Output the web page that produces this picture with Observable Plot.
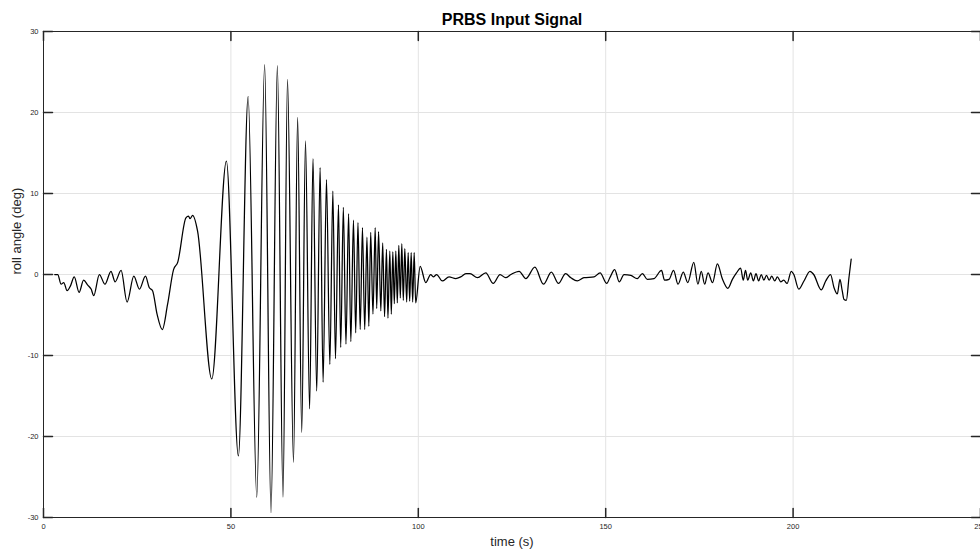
<!DOCTYPE html>
<html>
<head>
<meta charset="utf-8">
<script src="https://cdn.jsdelivr.net/npm/d3@7"></script>
<script src="https://cdn.jsdelivr.net/npm/@observablehq/plot@0.6"></script>
<style>
  html, body { margin: 0; padding: 0; background: #fff; overflow: hidden; }
  #chart svg { display: block; }
</style>
</head>
<body>
<div id="chart"></div>
<script>
const title = "PRBS Input Signal";
const xLabel = "time (s)";
const yLabel = "roll angle (deg)";
const xTicks = [0, 50, 100, 150, 200, 250];
const yTicks = [-30, -20, -10, 0, 10, 20, 30];

const times = [
  3.0, 3.8, 4.7, 5.4, 6.3, 7.2, 8.2, 9.5, 10.7, 11.8, 12.7, 13.4, 14.9, 16.4, 18.0, 19.1, 20.7, 22.3,
  24.1, 25.6, 27.2, 28.2, 29.1, 30.3, 31.7, 33.1, 34.7, 35.8, 38.0, 38.7, 39.1, 39.8, 41.1,
  44.9, 48.8, 52.0, 54.6, 56.9, 59.0, 60.7, 62.4, 63.9, 65.1, 66.7, 67.8, 68.9, 69.9, 71.0, 71.9,
  72.9, 73.8, 74.6, 75.5, 76.4, 77.2, 77.9, 78.7, 79.3, 80.0, 80.7, 81.4, 82.0, 82.7, 83.3, 83.9,
  84.5, 85.1, 85.7, 86.3, 86.8, 87.3, 87.9, 88.5, 88.9, 89.4, 90.0, 90.5, 91.0, 91.5, 91.9, 92.4,
  92.8, 93.2, 93.6, 94.0, 94.4, 94.8, 95.2, 95.6, 96.0, 96.4, 96.9, 97.3, 97.7, 98.1, 98.5, 98.9,
  99.3, 100.5, 102.0, 103.3, 104.0, 104.9, 106.4, 108.2, 110.0, 111.3, 112.7, 113.8, 115.8, 118.0,
  120.0, 121.8, 123.3, 124.7, 126.9, 128.7, 131.1, 133.4, 135.5, 137.4, 139.3, 140.7, 142.4, 144.2,
  146.9, 148.5, 150.3, 151.1, 152.4, 153.6, 154.9, 156.7, 158.4, 159.8, 161.1, 162.9, 164.9, 165.7,
  166.9, 168.1, 169.3, 170.7, 171.9, 173.5, 174.6, 175.5, 176.4, 177.3, 178.5, 179.8, 181.1, 182.6,
  183.8, 184.9, 186.0, 186.7, 187.3, 187.9, 188.7, 189.4, 190.1, 190.8, 191.5, 192.2, 192.9, 193.6,
  194.3, 195.1, 195.8, 196.7, 197.5, 198.4, 199.5, 200.2, 201.5, 202.9, 204.5, 205.5, 207.5, 208.7,
  210.0, 210.9, 211.8, 212.5, 213.1, 213.6, 214.2, 214.9, 215.5
];
const angles = [
  0.0, 0.0, -1.2, -1.0, -2.0, -1.4, -0.3, -2.2, -0.7, -1.3, -1.8, -2.6, 0.0, -1.2, 0.4, -0.9, 0.5, -3.4,
  -0.2, -1.8, -0.2, -1.6, -2.0, -4.9, -6.8, -3.7, 0.6, 1.5, 7.0, 7.2, 6.9, 7.3, 5.4,
  -12.9, 14.0, -22.4, 22.0, -27.5, 25.9, -29.4, 25.8, -27.5, 24.1, -23.2, 19.4, -19.5, 16.5, -16.6, 14.3,
  -14.4, 13.2, -13.3, 11.7, -11.1, 10.3, -10.4, 8.6, -9.0, 8.3, -8.6, 7.5, -8.3, 6.7, -7.2, 6.4,
  -6.8, 5.8, -6.8, 4.6, -6.4, 5.2, -4.9, 5.8, -4.2, 5.3, -4.5, 3.9, -5.2, 3.1, -5.4, 2.9,
  -4.9, 2.8, -3.6, 2.9, -3.5, 3.6, -2.9, 3.8, -3.2, 3.2, -3.4, 2.7, -3.3, 2.7, -3.4, 2.7,
  -3.5, 1.0, -1.0, 0.0, -0.3, 0.0, -0.8, -0.3, -0.5, -0.3, 0.1, 0.1, -0.4, 0.2,
  -1.1, 0.0, -0.4, 0.0, 0.4, -0.5, 0.9, -1.2, 0.3, -1.1, 0.1, -0.4, -0.8, -0.4,
  -0.3, 0.2, -1.1, -0.4, 0.6, -0.9, 0.0, -0.1, -0.5, 0.1, -0.6, -0.5, 0.5, -0.7,
  -0.6, 0.5, -1.2, 0.3, -1.0, 1.5, -1.2, 0.4, -1.2, 0.2, -1.0, 1.3, -0.5, -1.7,
  -0.6, 0.2, 0.8, -0.7, 0.5, -0.7, 0.2, -0.8, 0.1, -0.8, 0.0, -0.7, -0.1, -0.7,
  -0.2, -0.8, -0.3, -0.9, -0.7, -1.1, 0.4, 0.0, -1.8, -0.8, 0.4, 0.0, -1.9, -0.8,
  0.0, -1.6, -2.4, -0.6, -2.0, -3.1, -3.2, -0.4, 1.9
];

const data = times.map((t, i) => ({t, a: angles[i]}));
const axisColor = "#262626";
const gridColor = "#e3e3e3";
const tickShape = {draw(context, l) { context.moveTo(0, 0); context.lineTo(0, -l); }};
const tickLen = 9;

const chart = Plot.plot({
  width: 980,
  height: 554,
  marginLeft: 43,
  marginRight: 0,
  marginTop: 31,
  marginBottom: 37,
  style: {fontFamily: "'Liberation Sans', Arial, Helvetica, sans-serif", background: "#fff"},
  x: {domain: [0, 250], axis: null},
  y: {domain: [-30, 30], axis: null},
  marks: [
    Plot.ruleX(xTicks, {x: d => d, stroke: gridColor, strokeWidth: 1}),
    Plot.ruleY(yTicks, {y: d => d, stroke: gridColor, strokeWidth: 1}),
    Plot.line(data, {x: "t", y: "a", stroke: "#000", strokeWidth: 1.25, curve: "monotone-x"}),
    Plot.frame({stroke: axisColor, strokeWidth: 1}),
    Plot.vector(xTicks, {x: d => d, frameAnchor: "bottom", length: tickLen, rotate: 0, anchor: "start", shape: tickShape, stroke: axisColor}),
    Plot.vector(xTicks, {x: d => d, frameAnchor: "top", length: tickLen, rotate: 180, anchor: "start", shape: tickShape, stroke: axisColor}),
    Plot.vector(yTicks, {y: d => d, frameAnchor: "left", length: tickLen, rotate: 90, anchor: "start", shape: tickShape, stroke: axisColor}),
    Plot.vector(yTicks, {y: d => d, frameAnchor: "right", length: tickLen, rotate: -90, anchor: "start", shape: tickShape, stroke: axisColor}),
    Plot.text(xTicks, {x: d => d, text: d => String(d), frameAnchor: "bottom", lineAnchor: "top", dy: 6, fontSize: 7.5, fill: axisColor}),
    Plot.text(yTicks, {y: d => d, text: d => String(d), frameAnchor: "left", textAnchor: "end", dx: -5, fontSize: 7.5, fill: axisColor}),
    Plot.text([xLabel], {text: d => d, frameAnchor: "bottom", lineAnchor: "middle", dy: 24, fontSize: 13, fill: axisColor}),
    Plot.text([yLabel], {text: d => d, frameAnchor: "left", lineAnchor: "middle", rotate: -90, dx: -27, fontSize: 13, fill: axisColor}),
    Plot.text([title], {text: d => d, frameAnchor: "top", lineAnchor: "middle", dy: -12, fontSize: 16, fontWeight: "bold", fill: "#000"})
  ]
});
document.getElementById("chart").appendChild(chart);
</script>
</body>
</html>
